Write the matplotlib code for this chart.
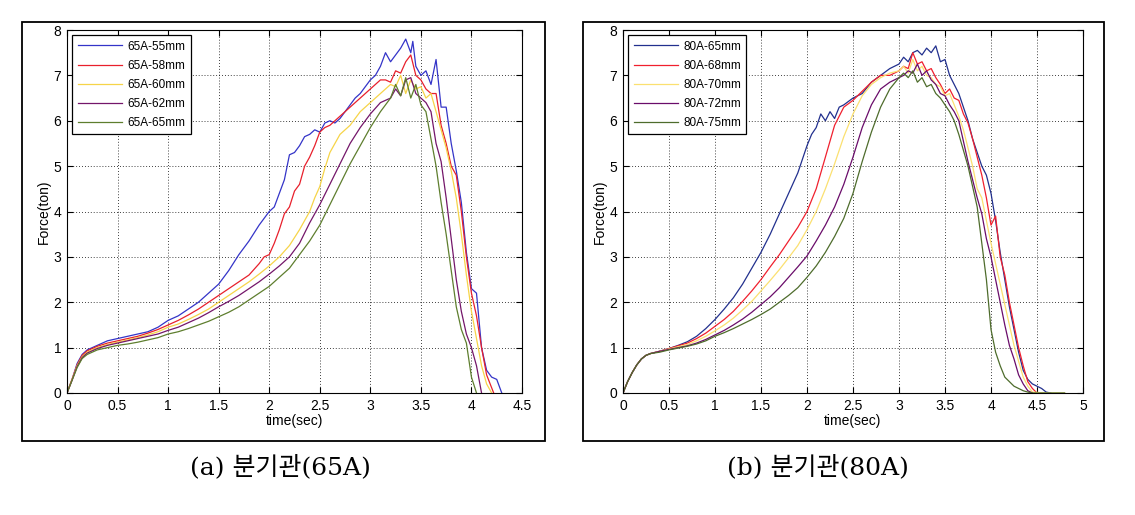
import matplotlib
matplotlib.use("Agg")
import matplotlib.pyplot as plt
from matplotlib.patches import Rectangle

plt.rcParams['font.family'] = ['Liberation Sans', 'DejaVu Sans']

# ---- (a) 65A branch pipe ----
labels_a = ['65A-55mm', '65A-58mm', '65A-60mm', '65A-62mm', '65A-65mm']
colors_a = ['#3434c8', '#e8202c', '#f6d448', '#74166a', '#5e7e2e']

t_a55 = [0, 0.05, 0.1, 0.15, 0.2, 0.3, 0.4, 0.5, 0.6, 0.7, 0.8, 0.9, 1.0,
         1.1, 1.2, 1.3, 1.4, 1.5, 1.6, 1.7, 1.8, 1.9, 2.0,
         2.05, 2.1, 2.15, 2.2, 2.25, 2.3, 2.35, 2.4, 2.45, 2.5, 2.55, 2.6, 2.65, 2.7,
         2.75, 2.8, 2.85, 2.9, 2.95, 3.0, 3.05, 3.1, 3.15, 3.2, 3.25, 3.3, 3.35, 3.4,
         3.42, 3.45, 3.5, 3.55, 3.6, 3.65, 3.7, 3.75, 3.8, 3.85, 3.9, 3.95, 4.0, 4.05,
         4.1, 4.15, 4.2, 4.25, 4.3]
f_a55 = [0, 0.3, 0.65, 0.85, 0.95, 1.05, 1.15, 1.2, 1.25, 1.3, 1.35, 1.45, 1.6,
         1.7, 1.85, 2.0, 2.2, 2.4, 2.7, 3.05, 3.35, 3.7, 4.0,
         4.1, 4.4, 4.7, 5.25, 5.3, 5.45, 5.65, 5.7, 5.8, 5.75, 5.95, 6.0, 5.95, 6.05,
         6.2, 6.35, 6.5, 6.6, 6.75, 6.9, 7.0, 7.2, 7.5, 7.3, 7.45, 7.6, 7.8, 7.5,
         7.75, 7.2, 7.0, 7.1, 6.8, 7.35, 6.3, 6.3, 5.5, 4.9, 4.2, 3.1, 2.3, 2.2,
         1.0, 0.5, 0.35, 0.3, 0]

t_a58 = [0, 0.05, 0.1, 0.15, 0.2, 0.3, 0.4, 0.5, 0.6, 0.7, 0.8, 0.9, 1.0,
         1.1, 1.2, 1.3, 1.4, 1.5, 1.6, 1.7, 1.8, 1.9,
         1.95, 2.0, 2.05, 2.1, 2.15, 2.2, 2.25, 2.3, 2.35, 2.4, 2.45, 2.5, 2.55, 2.6,
         2.7, 2.8, 2.9, 3.0, 3.1,
         3.15, 3.2, 3.25, 3.3, 3.35, 3.4, 3.45, 3.5, 3.55, 3.6, 3.65, 3.7, 3.75, 3.8,
         3.85, 3.9, 3.95, 4.0, 4.05, 4.1, 4.15, 4.22]
f_a58 = [0, 0.3, 0.62, 0.83, 0.93, 1.03, 1.1, 1.15, 1.2, 1.25, 1.32, 1.4, 1.5,
         1.6, 1.72, 1.85, 2.0, 2.15, 2.3, 2.45, 2.6, 2.85,
         3.0, 3.05, 3.3, 3.6, 3.95, 4.1, 4.45, 4.6, 5.0, 5.2, 5.45, 5.75, 5.85, 5.9,
         6.1, 6.3, 6.5, 6.7, 6.9,
         6.9, 6.85, 7.1, 7.05, 7.3, 7.45, 7.0, 6.9, 6.7, 6.6, 6.6, 5.9, 5.5, 5.0,
         4.8, 4.0, 3.0, 2.2, 1.7, 1.0, 0.4, 0]

t_a60 = [0, 0.05, 0.1, 0.15, 0.2, 0.3, 0.4, 0.5, 0.6, 0.7, 0.8, 0.9, 1.0,
         1.1, 1.2, 1.3, 1.4, 1.5, 1.6, 1.7, 1.8, 1.9, 2.0, 2.1, 2.2, 2.3,
         2.35, 2.4, 2.45, 2.5, 2.55, 2.6, 2.65, 2.7,
         2.8, 2.9, 3.0, 3.1, 3.2,
         3.25, 3.3, 3.35, 3.4, 3.45, 3.5, 3.55, 3.6, 3.65, 3.7, 3.75, 3.8, 3.85, 3.9,
         3.95, 4.0, 4.05, 4.1, 4.15, 4.2]
f_a60 = [0, 0.3, 0.6, 0.8, 0.9, 1.0, 1.07, 1.12, 1.17, 1.22, 1.28, 1.35, 1.45,
         1.52, 1.62, 1.73, 1.85, 2.0, 2.15, 2.3, 2.45, 2.62, 2.8, 3.0, 3.25, 3.6,
         3.8, 4.0, 4.3, 4.55, 4.95, 5.3, 5.5, 5.7,
         5.9, 6.2, 6.4, 6.6, 6.8,
         6.75, 7.0, 6.6, 6.9, 6.7, 6.75, 6.5, 6.6, 6.2, 5.8, 5.4, 4.9, 4.3, 3.5,
         2.6, 1.8, 1.2, 0.6, 0.2, 0]

t_a62 = [0, 0.05, 0.1, 0.15, 0.2, 0.3, 0.4, 0.5, 0.6, 0.7, 0.8, 0.9, 1.0,
         1.1, 1.2, 1.3, 1.4, 1.5, 1.6, 1.7, 1.8, 1.9, 2.0, 2.1, 2.2, 2.3, 2.4, 2.5,
         2.6, 2.7, 2.8, 2.9, 3.0, 3.1, 3.2,
         3.25, 3.3, 3.35, 3.4, 3.45, 3.5, 3.55, 3.6, 3.65, 3.7, 3.75, 3.8, 3.85, 3.9,
         3.95, 4.0, 4.05, 4.1]
f_a62 = [0, 0.28, 0.58, 0.78, 0.88, 0.98, 1.05, 1.1, 1.15, 1.2, 1.25, 1.3, 1.38,
         1.45, 1.55, 1.65, 1.77, 1.9, 2.02, 2.15, 2.3, 2.45, 2.62, 2.8, 3.0, 3.3, 3.75, 4.15,
         4.6, 5.05, 5.5, 5.85, 6.15, 6.4, 6.5,
         6.7, 6.55, 6.9, 6.95, 6.6, 6.5, 6.4, 6.2, 5.5, 5.1, 4.3, 3.4, 2.5, 1.8,
         1.3, 1.0, 0.6, 0]

t_a65 = [0, 0.05, 0.1, 0.15, 0.2, 0.3, 0.4, 0.5, 0.6, 0.7, 0.8, 0.9, 1.0,
         1.1, 1.2, 1.3, 1.4, 1.5, 1.6, 1.7, 1.8, 1.9, 2.0, 2.1, 2.2, 2.3, 2.4, 2.5,
         2.6, 2.7, 2.8, 2.9, 3.0, 3.1, 3.2,
         3.25, 3.3, 3.35, 3.4, 3.45, 3.5, 3.55, 3.6, 3.65, 3.7, 3.75, 3.8, 3.85, 3.9,
         3.95, 4.0, 4.05]
f_a65 = [0, 0.28, 0.56, 0.76, 0.85, 0.95, 1.0, 1.05, 1.08, 1.12, 1.17, 1.22, 1.3,
         1.35, 1.42, 1.5, 1.58, 1.68, 1.78, 1.9, 2.05, 2.2, 2.35, 2.55, 2.75, 3.05, 3.35, 3.7,
         4.15, 4.6, 5.05, 5.45, 5.85, 6.2, 6.5,
         6.8, 6.55, 6.95, 6.5, 6.8, 6.35, 6.2, 5.6, 5.0, 4.2, 3.5, 2.7, 1.9, 1.4,
         1.1, 0.35, 0]

# ---- (b) 80A branch pipe ----
labels_b = ['80A-65mm', '80A-68mm', '80A-70mm', '80A-72mm', '80A-75mm']
colors_b = ['#22308e', '#f0202e', '#fbe070', '#6a0c6a', '#4e6c2c']

t_b65 = [0, 0.05, 0.1, 0.15, 0.2, 0.25, 0.3,
         0.4, 0.5, 0.6, 0.7, 0.8, 0.9, 1.0, 1.1, 1.2, 1.3, 1.4, 1.5, 1.6, 1.7, 1.8, 1.9,
         1.95, 2.0, 2.05, 2.1, 2.15, 2.2, 2.25, 2.3, 2.35, 2.4,
         2.5, 2.6, 2.7, 2.8, 2.9, 3.0,
         3.05, 3.1, 3.15, 3.2, 3.25, 3.3, 3.35, 3.4, 3.45, 3.5, 3.55, 3.6, 3.65, 3.7,
         3.75, 3.8, 3.85, 3.9, 3.95, 4.0, 4.05, 4.1, 4.15, 4.2, 4.25, 4.3, 4.35, 4.4,
         4.45, 4.5, 4.55, 4.6, 4.65]
f_b65 = [0, 0.25, 0.45, 0.62, 0.75, 0.83, 0.87,
         0.92, 0.98, 1.05, 1.13, 1.25, 1.42, 1.62, 1.85, 2.1, 2.4, 2.75, 3.1, 3.5, 3.95, 4.4, 4.85,
         5.15, 5.45, 5.7, 5.85, 6.15, 6.0, 6.2, 6.05, 6.3, 6.35,
         6.5, 6.6, 6.85, 7.0, 7.15, 7.25,
         7.4, 7.3, 7.5, 7.55, 7.45, 7.6, 7.5, 7.65, 7.3, 7.35, 7.0, 6.8, 6.6, 6.3,
         6.0, 5.6, 5.3, 5.0, 4.8, 4.4, 3.8, 3.1, 2.5, 1.9, 1.4, 0.9, 0.5, 0.3,
         0.2, 0.15, 0.1, 0.02, 0]

t_b68 = [0, 0.05, 0.1, 0.15, 0.2, 0.25, 0.3,
         0.4, 0.5, 0.6, 0.7, 0.8, 0.9, 1.0, 1.1, 1.2, 1.3, 1.4, 1.5, 1.6, 1.7, 1.8, 1.9,
         2.0, 2.1, 2.2, 2.3, 2.4, 2.5, 2.6, 2.7, 2.8, 2.9, 3.0,
         3.05, 3.1, 3.15, 3.2, 3.25, 3.3, 3.35, 3.4, 3.45, 3.5, 3.55, 3.6, 3.65, 3.7,
         3.75, 3.8, 3.85, 3.9, 3.95, 4.0, 4.05, 4.1, 4.15, 4.2, 4.25, 4.3, 4.35, 4.4,
         4.45, 4.5]
f_b68 = [0, 0.25, 0.45, 0.62, 0.75, 0.83, 0.87,
         0.92, 0.98, 1.04, 1.1, 1.2, 1.32, 1.47, 1.62, 1.8, 2.02, 2.25, 2.5, 2.78, 3.05, 3.35, 3.65,
         4.0, 4.5, 5.2, 5.9, 6.3, 6.45, 6.65, 6.85, 7.0, 7.0, 7.1,
         7.2, 7.15, 7.5, 7.25, 7.3, 7.1, 7.15, 6.95, 6.8, 6.6, 6.7, 6.5, 6.45, 6.15,
         5.95, 5.6, 5.2, 4.8, 4.3, 3.7, 3.9, 3.0, 2.6, 2.0, 1.5, 1.0, 0.6, 0.25,
         0.1, 0]

t_b70 = [0, 0.05, 0.1, 0.15, 0.2, 0.25, 0.3,
         0.4, 0.5, 0.6, 0.7, 0.8, 0.9, 1.0, 1.1, 1.2, 1.3, 1.4, 1.5, 1.6, 1.7, 1.8, 1.9,
         2.0, 2.1, 2.2, 2.3, 2.4, 2.5, 2.6, 2.7, 2.8, 2.9, 3.0,
         3.05, 3.1, 3.15, 3.2, 3.25, 3.3, 3.35, 3.4, 3.45, 3.5, 3.55, 3.6, 3.65, 3.7,
         3.75, 3.8, 3.85, 3.9, 3.95, 4.0, 4.05, 4.1, 4.15, 4.2, 4.25, 4.3, 4.35, 4.4,
         4.45, 4.6, 4.8]
f_b70 = [0, 0.25, 0.45, 0.62, 0.75, 0.83, 0.87,
         0.92, 0.97, 1.02, 1.07, 1.15, 1.25, 1.37, 1.5, 1.65, 1.83, 2.02, 2.25, 2.48, 2.72, 2.98, 3.25,
         3.6, 4.0, 4.5, 5.05, 5.65, 6.15, 6.55, 6.8, 6.95, 7.05, 7.1,
         7.2, 7.05, 7.35, 7.1, 7.2, 7.0, 6.95, 6.8, 6.75, 6.55, 6.6, 6.35, 6.1, 5.8,
         5.4, 5.0, 4.5, 4.3, 3.8, 3.3, 2.85, 2.4, 1.95, 1.5, 1.05, 0.7, 0.35, 0.15,
         0.02, 0, 0]

t_b72 = [0, 0.05, 0.1, 0.15, 0.2, 0.25, 0.3,
         0.4, 0.5, 0.6, 0.7, 0.8, 0.9, 1.0, 1.1, 1.2, 1.3, 1.4, 1.5, 1.6, 1.7, 1.8, 1.9,
         2.0, 2.1, 2.2, 2.3, 2.4, 2.5, 2.6, 2.7, 2.8, 2.9, 3.0,
         3.05, 3.1, 3.15, 3.2, 3.25, 3.3, 3.35, 3.4, 3.45, 3.5, 3.55, 3.6, 3.65, 3.7,
         3.75, 3.8, 3.85, 3.9, 3.95, 4.0, 4.05, 4.1, 4.15, 4.2, 4.25, 4.3, 4.35, 4.4,
         4.45]
f_b72 = [0, 0.25, 0.45, 0.62, 0.75, 0.83, 0.87,
         0.92, 0.96, 1.0, 1.04, 1.1, 1.18, 1.28, 1.38, 1.5, 1.63, 1.78, 1.95, 2.12, 2.32, 2.55, 2.78,
         3.02, 3.35, 3.7, 4.1, 4.6, 5.2, 5.85, 6.35, 6.7, 6.85, 6.95,
         7.0, 7.1, 7.05, 7.25, 7.0, 7.1, 6.9, 6.8, 6.6, 6.55, 6.35, 6.2, 6.0, 5.55,
         5.1, 4.7, 4.3, 3.95, 3.4, 3.0, 2.5, 2.0, 1.5, 1.05, 0.75, 0.4, 0.2, 0.05,
         0]

t_b75 = [0, 0.05, 0.1, 0.15, 0.2, 0.25, 0.3,
         0.4, 0.5, 0.6, 0.7, 0.8, 0.9, 1.0, 1.1, 1.2, 1.3, 1.4, 1.5, 1.6, 1.7, 1.8, 1.9,
         2.0, 2.1, 2.2, 2.3, 2.4, 2.5, 2.6, 2.7, 2.8, 2.9, 3.0,
         3.05, 3.1, 3.15, 3.2, 3.25, 3.3, 3.35, 3.4, 3.45, 3.5, 3.55, 3.6, 3.65, 3.7,
         3.75, 3.8, 3.85, 3.9, 3.95, 4.0, 4.05, 4.1, 4.15, 4.2, 4.25, 4.3, 4.35, 4.4,
         4.45, 4.6, 4.8]
f_b75 = [0, 0.25, 0.45, 0.62, 0.75, 0.83, 0.87,
         0.9, 0.95, 0.99, 1.03, 1.08, 1.15, 1.25, 1.33, 1.42, 1.52, 1.62, 1.73, 1.85, 2.0, 2.15, 2.32,
         2.55, 2.8, 3.1, 3.45, 3.85, 4.4, 5.1, 5.75, 6.3, 6.7, 6.95,
         7.05, 6.95, 7.1, 6.85, 6.95, 6.75, 6.8, 6.6, 6.5, 6.35, 6.2, 6.0, 5.7, 5.35,
         5.0, 4.55, 4.1, 3.3, 2.5, 1.4, 0.9, 0.6, 0.35, 0.25, 0.15, 0.1, 0.05, 0.02,
         0, 0, 0]

series_a = [(t_a55, f_a55), (t_a58, f_a58), (t_a60, f_a60), (t_a62, f_a62), (t_a65, f_a65)]
series_b = [(t_b65, f_b65), (t_b68, f_b68), (t_b70, f_b70), (t_b72, f_b72), (t_b75, f_b75)]

W, H = 1135, 515
fig = plt.figure(figsize=(W / 100, H / 100), dpi=100)


def fx(px):
    return px / W


def fy(py):
    return 1 - py / H


def panel(ax_px, frame_px, series, labels, colors, xmax, xticks, caption, cap_x):
    l, t, r, b = ax_px
    ax = fig.add_axes([fx(l), fy(b), fx(r) - fx(l), fy(t) - fy(b)])
    for (tt, ff), lab, c in zip(series, labels, colors):
        ax.plot(tt, ff, color=c, lw=0.9, label=lab)
    ax.set_xlim(0, xmax)
    ax.set_ylim(0, 8)
    ax.set_xticks(xticks)
    ax.set_xticklabels([('%g' % v) for v in xticks])
    ax.set_yticks(range(0, 9))
    ax.grid(True, color='black', linestyle=(0, (1, 2.5)), lw=0.6)
    ax.tick_params(direction='in', top=True, right=True, length=4, width=0.8,
                   labelsize=10, pad=4)
    for s in ax.spines.values():
        s.set_linewidth(0.8)
    ax.set_xlabel('time(sec)', fontsize=10, labelpad=1)
    ax.set_ylabel('Force(ton)', fontsize=10, labelpad=2)
    leg = ax.legend(loc='upper left', fontsize=8.5, handlelength=3.8,
                    fancybox=False, edgecolor='black', framealpha=1,
                    borderpad=0.45, labelspacing=0.6, handletextpad=0.4,
                    borderaxespad=0.45)
    leg.get_frame().set_linewidth(0.9)
    fl, ft, fr, fb = frame_px
    fig.add_artist(Rectangle((fx(fl), fy(fb)), fx(fr) - fx(fl), fy(ft) - fy(fb),
                             transform=fig.transFigure, fill=False, lw=1.3,
                             edgecolor='black'))
    fig.text(fx(cap_x), fy(467), caption, ha='center', va='center',
             fontsize=18, family=['DejaVu Serif', 'Noto Sans CJK KR'])
    return ax


panel((67, 30, 522, 393), (22, 22, 545, 441), series_a, labels_a, colors_a, 4.5,
      [0, 0.5, 1, 1.5, 2, 2.5, 3, 3.5, 4, 4.5], '(a) 분기관(65A)', 280)
panel((623, 30, 1083, 393), (583, 22, 1104, 441), series_b, labels_b, colors_b, 5,
      [0, 0.5, 1, 1.5, 2, 2.5, 3, 3.5, 4, 4.5, 5], '(b) 분기관(80A)', 818)

fig.savefig('out.png', dpi=100)
